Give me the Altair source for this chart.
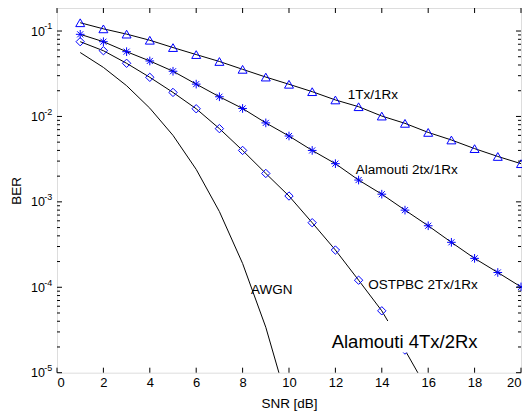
import altair as alt
import pandas as pd

# ---- data ----
snr = list(range(1, 21))
ber_1x1 = [0.125, 0.106, 0.092, 0.078, 0.064, 0.053, 0.044, 0.0356, 0.0289, 0.0238,
           0.0195, 0.0156, 0.0130, 0.0101, 0.0083, 0.0065, 0.0053, 0.0042, 0.0034, 0.0028]
ber_alam21 = [0.0915, 0.075, 0.0573, 0.0446, 0.0338, 0.0239, 0.0170, 0.0124, 0.0084, 0.0059,
              0.0040, 0.0028, 0.0018, 0.00123, 0.00080, 0.000525, 0.000336, 0.000218, 0.000149, 0.000101]
snr_ost = list(range(1, 17))
ber_ost = [0.075, 0.0588, 0.0419, 0.0287, 0.0191, 0.0123, 0.0072, 0.0040, 0.00215, 0.00117,
           0.00057, 0.000273, 0.000121, 0.000053, 0.0000184, 0.0000061]
snr_awgn = list(range(1, 11))
ber_awgn = [0.056, 0.0375, 0.0229, 0.0125, 0.0060, 0.0024, 0.00077, 0.00019, 0.000034, 0.0000039]

x_ticks = list(range(0, 21, 2))
y_major = [1e-5, 1e-4, 1e-3, 1e-2, 1e-1]
y_exps = ["-5", "-4", "-3", "-2", "-1"]
y_minor = [m * 10.0 ** e for e in range(-5, -1) for m in range(2, 10)]

labels = ["1Tx/1Rx", "Alamouti 2tx/1Rx", "OSTPBC 2Tx/1Rx", "AWGN"]
label_x = [12.53, 12.88, 13.42, 8.36]
label_y = [0.0178, 0.00236, 0.000106, 0.000094]

big_label = "Alamouti 4Tx/2Rx"
big_x, big_y = 11.84, 0.0000226
box_x, box_x2, box_y, box_y2 = 11.7, 18.5, 0.0000172, 0.0000402

W, H = 464.0, 364.7
FONT = "Liberation Sans"

rows = []
for name, xs, ys in [("1x1", snr, ber_1x1), ("alam", snr, ber_alam21),
                     ("ost", snr_ost, ber_ost), ("awgn", snr_awgn, ber_awgn)]:
    for a, b in zip(xs, ys):
        rows.append({"series": name, "snr": a, "ber": b})
df = pd.DataFrame(rows)

xs = alt.Scale(domain=[0, 20], nice=False, zero=False)
ys = alt.Scale(type="log", domain=[1e-5, 0.186], nice=False)

X = alt.X("snr:Q", scale=xs, axis=alt.Axis(
    values=x_ticks, ticks=False, domain=False, grid=False, labelPadding=4,
    labelFont=FONT, labelFontSize=13, labelColor="#000",
    title="SNR [dB]", titleFont=FONT, titleFontSize=13.5, titleFontWeight="normal",
    titleColor="#000", titleY=30.6, titleBaseline="middle"))
Y = alt.Y("ber:Q", scale=ys, axis=alt.Axis(
    values=y_major, labelExpr="'10'", ticks=False, domain=False, grid=False,
    labelPadding=12.5, labelFont=FONT, labelFontSize=12.5, labelColor="#000",
    labelBaseline="middle",
    title="BER", titleFont=FONT, titleFontSize=13.5, titleFontWeight="normal",
    titleColor="#000", titleX=-40.5, titleY=H / 2, titleBaseline="middle"))

lines = alt.Chart(df).mark_line(color="#000", strokeWidth=1, clip=True).encode(
    x=X, y=Y, detail="series:N")

star = "M0,-1L0,1M-1,0L1,0M-0.7,-0.7L0.7,0.7M-0.7,0.7L0.7,-0.7"
pts = alt.Chart(df).transform_filter(
    (alt.datum.series != "awgn") & (alt.datum.ber >= 1e-5)
).mark_point(filled=False, color="#0000ff", strokeWidth=1, opacity=1).encode(
    x="snr:Q", y="ber:Q",
    shape=alt.Shape("series:N", scale=alt.Scale(domain=["1x1", "alam", "ost"],
                                                range=["triangle-up", star, "diamond"]),
                    legend=None),
    size=alt.Size("series:N", scale=alt.Scale(domain=["1x1", "alam", "ost"],
                                              range=[80, 70, 55]), legend=None))

box = alt.Chart(pd.DataFrame({"x": [box_x], "x2": [box_x2], "y": [box_y], "y2": [box_y2]})).mark_rect(
    fill="white").encode(x="x:Q", x2="x2", y="y:Q", y2="y2")

ann = alt.Chart(pd.DataFrame({"x": label_x, "y": label_y, "t": labels})).mark_text(
    align="left", baseline="middle", font=FONT, fontSize=13.5, color="#000").encode(
    x="x:Q", y="y:Q", text="t:N")

big = alt.Chart(pd.DataFrame({"x": [big_x], "y": [big_y], "t": [big_label]})).mark_text(
    align="left", baseline="middle", font=FONT, fontSize=18.5, color="#000").encode(
    x="x:Q", y="y:Q", text="t:N")

xt = pd.DataFrame({"v": x_ticks})
tick_b = alt.Chart(xt).mark_rule(color="#000", strokeWidth=1).encode(
    x="v:Q", y=alt.value(H), y2=alt.value(H - 5))
tick_t = alt.Chart(xt).mark_rule(color="#000", strokeWidth=1).encode(
    x="v:Q", y=alt.value(0), y2=alt.value(5))

ymaj = pd.DataFrame({"v": y_major, "e": y_exps})
ymin = pd.DataFrame({"v": y_minor})
tl_maj = alt.Chart(ymaj).mark_rule(color="#000", strokeWidth=1).encode(
    y="v:Q", x=alt.value(0), x2=alt.value(5))
tr_maj = alt.Chart(ymaj).mark_rule(color="#000", strokeWidth=1).encode(
    y="v:Q", x=alt.value(W), x2=alt.value(W - 5))
tl_min = alt.Chart(ymin).mark_rule(color="#000", strokeWidth=1).encode(
    y="v:Q", x=alt.value(0), x2=alt.value(3))
tr_min = alt.Chart(ymin).mark_rule(color="#000", strokeWidth=1).encode(
    y="v:Q", x=alt.value(W), x2=alt.value(W - 3))
exps = alt.Chart(ymaj).mark_text(align="left", baseline="alphabetic", font=FONT,
                                 fontSize=9, color="#000", dy=-1.6).encode(
    y="v:Q", x=alt.value(-12.8), text="e:N")

chart = alt.layer(lines, pts, box, ann, big, tick_b, tick_t, tl_maj, tr_maj, tl_min, tr_min, exps).properties(
    width=W, height=H,
    autosize=alt.AutoSizeParams(type="none"),
    padding={"left": 49, "top": 0, "right": 1, "bottom": 40},
).configure_view(stroke="#000", strokeWidth=1).configure(background="white")

chart.save("out.html", embed_options={"renderer": "svg", "actions": False})
